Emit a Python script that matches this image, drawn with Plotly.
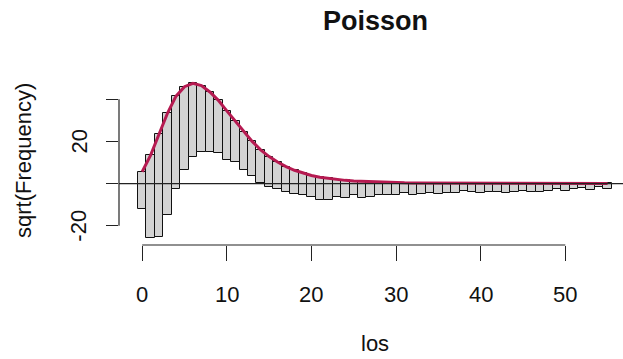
import plotly.graph_objects as go

# los values (counts 0..55)
los = list(range(0, 56))

# sqrt of expected frequencies (Poisson fit)
sqrt_expected = [5.6, 13.5, 23.5, 33.5, 41.5, 46.0, 47.6, 46.5, 43.5, 39.5,
                 34.5, 29.5, 24.5, 20.0, 16.0, 12.8, 10.2, 8.0, 6.3, 4.9,
                 3.8, 3.0, 2.4, 1.9, 1.5, 1.2, 1.0, 0.8, 0.6, 0.5,
                 0.4, 0.35, 0.3, 0.28, 0.25, 0.23, 0.2, 0.2, 0.18, 0.17,
                 0.16, 0.15, 0.14, 0.13, 0.12, 0.11, 0.1, 0.1, 0.09, 0.08,
                 0.08, 0.07, 0.07, 0.06, 0.06, 0.05]

# sqrt of observed frequencies (bar lengths)
sqrt_observed = [17.5, 39.5, 49.0, 48.5, 44.0, 39.7, 34.9, 31.4, 28.4, 25.2,
                 23.4, 19.2, 18.2, 16.5, 15.7, 14.4, 12.6, 12.0, 11.1, 10.5,
                 10.1, 10.6, 10.0, 8.2, 8.2, 6.8, 8.1, 7.1, 6.2, 6.1,
                 6.0, 4.75, 5.9, 5.1, 4.65, 5.0, 4.6, 4.7, 3.7, 4.2,
                 4.7, 4.15, 4.1, 4.6, 4.1, 3.6, 4.1, 4.1, 3.6, 2.6,
                 3.6, 2.6, 2.1, 3.1, 1.6, 2.6]

x_ticks = [0, 10, 20, 30, 40, 50]
y_ticks = [-20, 0, 20, 40]
y_tick_labels = ["-20", "", "20", ""]

bar_base = [e - o for e, o in zip(sqrt_expected, sqrt_observed)]

FONT = "Liberation Sans, Arial, Helvetica, sans-serif"
AX = "#222222"

fig = go.Figure()
fig.add_trace(go.Bar(
    x=los, y=sqrt_observed, base=bar_base, width=1.0,
    marker=dict(color="#D3D3D3", line=dict(color="#111111", width=1)),
    hoverinfo="skip", showlegend=False,
))
fig.add_trace(go.Scatter(
    x=los, y=sqrt_expected, mode="lines",
    line=dict(color="#B61A51", width=3),
    hoverinfo="skip", showlegend=False,
))

# zero reference line
fig.add_shape(type="line", xref="paper", yref="y", x0=0, x1=1, y0=0, y1=0,
              line=dict(color=AX, width=1.2), layer="above")
# R-style axis lines spanning only the tick range
fig.add_shape(type="line", xref="paper", yref="y", x0=0, x1=0,
              y0=min(y_ticks), y1=max(y_ticks), line=dict(color=AX, width=1.2))
fig.add_shape(type="line", xref="x", yref="paper", x0=min(x_ticks), x1=max(x_ticks),
              y0=0, y1=0, line=dict(color=AX, width=1.2))

ann = []
for t in x_ticks:
    ann.append(dict(x=t, y=0, xref="x", yref="paper", text=str(t), showarrow=False,
                    yanchor="middle", xanchor="center", yshift=-49,
                    font=dict(family=FONT, size=22, color="#111")))
for t, lab in zip(y_ticks, y_tick_labels):
    if lab:
        ann.append(dict(x=0, y=t, xref="paper", yref="y", text=lab, showarrow=False,
                        textangle=-90, xanchor="center", yanchor="middle", xshift=-40,
                        font=dict(family=FONT, size=22, color="#111")))
PW = 504.0
PH = 168.0
ann.append(dict(x=(375 - 119) / PW, y=1 + (77 - 21) / PH, xref="paper", yref="paper",
                text="<b>Poisson</b>", showarrow=False, xanchor="center", yanchor="middle",
                font=dict(family=FONT, size=27, color="#111")))
ann.append(dict(x=(375 - 119) / PW, y=-(343 - 245) / PH, xref="paper", yref="paper",
                text="los", showarrow=False, xanchor="center", yanchor="middle",
                font=dict(family=FONT, size=22, color="#111")))
ann.append(dict(x=-(119 - 23) / PW, y=(245 - 161) / PH, xref="paper", yref="paper",
                text="sqrt(Frequency)", showarrow=False, textangle=-90,
                xanchor="center", yanchor="middle",
                font=dict(family=FONT, size=22, color="#111")))

fig.update_layout(
    width=623, height=359,
    margin=dict(l=119, r=0, t=77, b=114, pad=0),
    plot_bgcolor="white", paper_bgcolor="white",
    bargap=0,
    annotations=ann,
    xaxis=dict(range=[-2.74, 56.82], showgrid=False, zeroline=False, showline=False,
               tickvals=x_ticks, ticks="outside", ticklen=15, tickwidth=1.2,
               tickcolor=AX, showticklabels=False),
    yaxis=dict(range=[-29.2, 50.6], showgrid=False, zeroline=False, showline=False,
               tickvals=y_ticks, ticks="outside", ticklen=12, tickwidth=1.2,
               tickcolor=AX, showticklabels=False),
)

fig.write_html("out.html")
